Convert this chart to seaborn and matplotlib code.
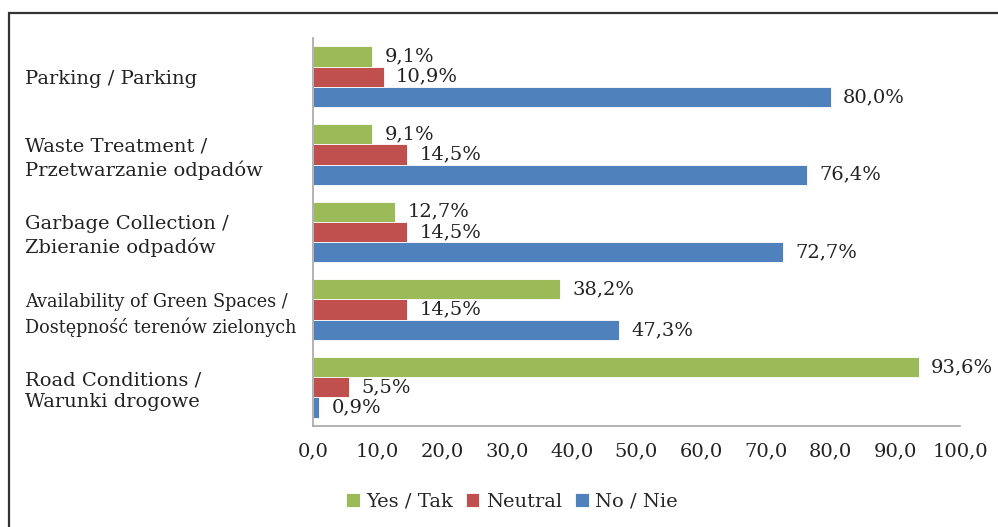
import matplotlib
matplotlib.use("Agg")
import matplotlib.pyplot as plt
import matplotlib.patches as mpatches
import seaborn as sns
import pandas as pd

categories = [
    "Parking / Parking",
    "Waste Treatment /\nPrzetwarzanie odpadów",
    "Garbage Collection /\nZbieranie odpadów",
    "Availability of Green Spaces /\nDostępność terenów zielonych",
    "Road Conditions /\nWarunki drogowe",
]
series = ["Yes / Tak", "Neutral", "No / Nie"]
yes_vals = [9.1, 9.1, 12.7, 38.2, 93.6]
neutral_vals = [10.9, 14.5, 14.5, 14.5, 5.5]
no_vals = [80.0, 76.4, 72.7, 47.3, 0.9]
colors = ["#9BBB59", "#C0504D", "#4F81BD"]
x_ticks = [0, 10, 20, 30, 40, 50, 60, 70, 80, 90, 100]

rows = []
for s, vals in zip(series, [yes_vals, neutral_vals, no_vals]):
    for c, v in zip(categories, vals):
        rows.append({"category": c, "series": s, "value": v})
df = pd.DataFrame(rows)

sns.set_theme(style="white")
plt.rcParams["font.family"] = ["DejaVu Serif"]
FS = 14

fig = plt.figure(figsize=(9.98, 5.27), dpi=100)
ax = fig.add_axes([313 / 998, 1 - 426 / 527, 647 / 998, 388 / 527])

sns.barplot(data=df, x="value", y="category", hue="series", order=categories,
            hue_order=series, palette=colors, orient="h", width=0.785,
            edgecolor="white", linewidth=0.6, saturation=1, ax=ax, legend=True)

for cont in ax.containers:
    labels = [f"{v:.1f}".replace(".", ",") + "%" for v in cont.datavalues]
    ax.bar_label(cont, labels=labels, padding=9, fontsize=FS, color="#222222")

ax.set_xlim(0, 100)
ax.set_ylim(4.5, -0.5)
ax.set_xticks(x_ticks)
ax.set_xticklabels([f"{t:.1f}".replace(".", ",") for t in x_ticks], fontsize=FS, color="#222222")
ax.set_xlabel("")
ax.set_ylabel("")
ax.tick_params(axis="both", length=0)
ax.tick_params(axis="x", pad=12)
ax.tick_params(axis="y", pad=(313 - 25) * 72 / 100)
for lbl in ax.get_yticklabels():
    lbl.set_ha("left")
    lbl.set_color("#222222")
    if "Green" in lbl.get_text():
        lbl.set_fontsize(12.7)
        lbl.set_linespacing(1.42)
    else:
        lbl.set_fontsize(FS)
        lbl.set_linespacing(1.3)

for side in ["top", "right"]:
    ax.spines[side].set_visible(False)
for side in ["left", "bottom"]:
    ax.spines[side].set_color("#A6A6A6")
    ax.spines[side].set_linewidth(1.2)

handles, labs = ax.get_legend_handles_labels()
ax.legend_.remove()
fig.legend(handles, labs, loc="center", bbox_to_anchor=(0.513, 1 - 502 / 527),
           ncol=3, frameon=False, fontsize=FS, handlelength=0.7, handleheight=0.7,
           handletextpad=0.35, columnspacing=0.65)

frame = mpatches.Rectangle((9 / 998, -0.5), 2.0, 0.5 + (1 - 13 / 527), transform=fig.transFigure,
                           fill=False, edgecolor="#333333", linewidth=1.6, clip_on=False)
fig.patches.append(frame)

fig.savefig("out.png", dpi=100)
